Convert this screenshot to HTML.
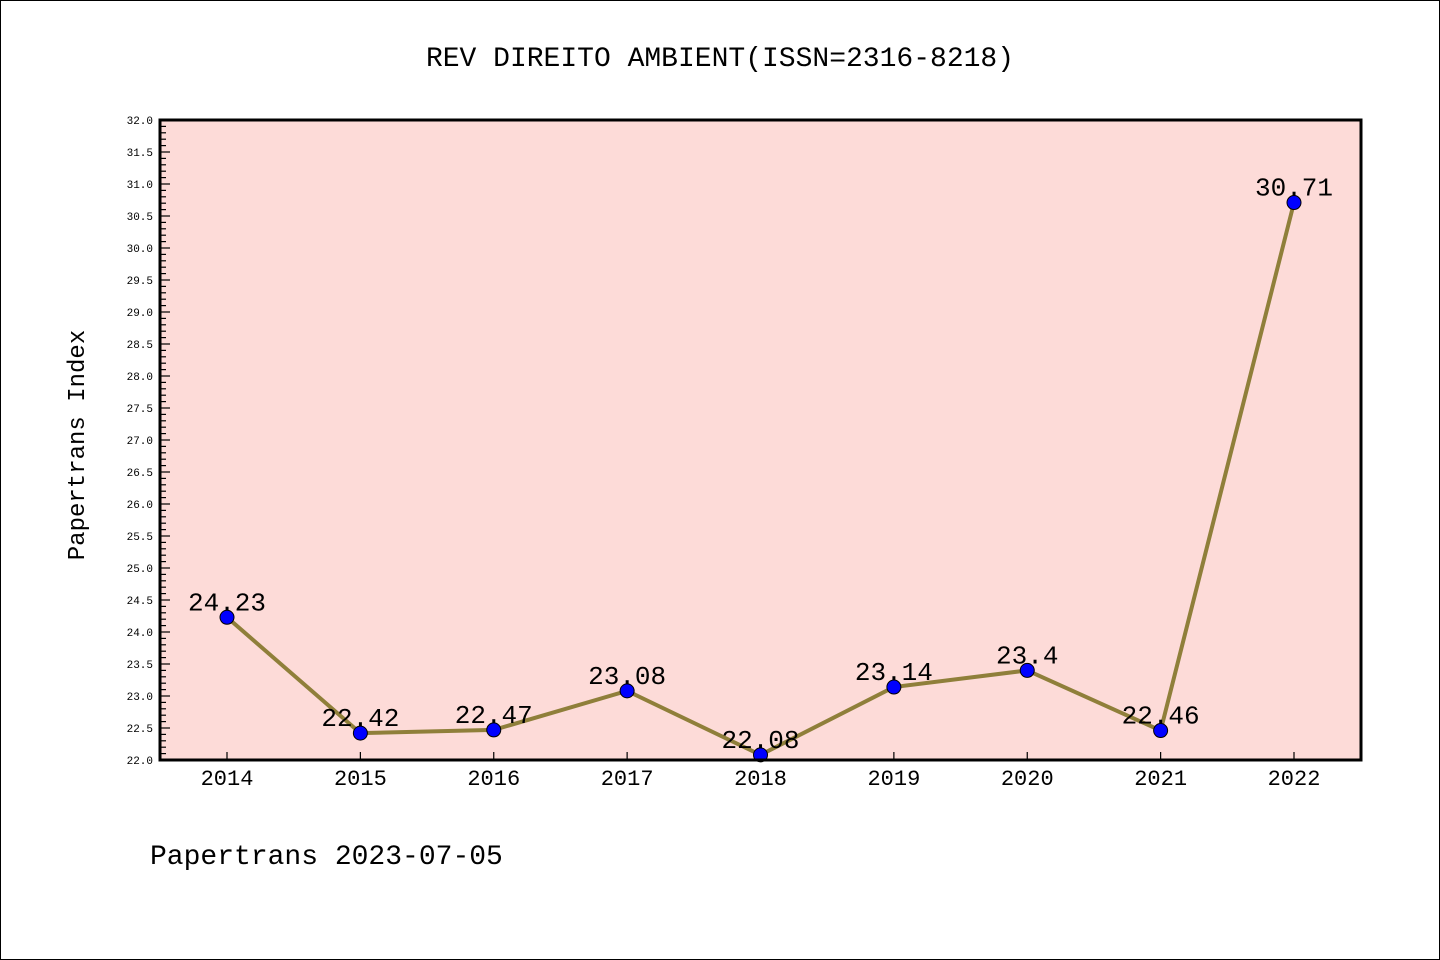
<!DOCTYPE html>
<html><head><meta charset="utf-8"><style>
body{margin:0;background:#fff}
svg{display:block}
text{font-family:"Liberation Mono","DejaVu Sans Mono","Noto Sans CJK SC",monospace}
</style></head><body>
<svg id="chart" width="1440" height="960" viewBox="0 0 1440 960" xmlns="http://www.w3.org/2000/svg">
<rect x="0.5" y="0.5" width="1439" height="959" fill="#fff" stroke="#000"/>
<text x="720" y="66" text-anchor="middle" font-size="28">REV DIREITO AMBIENT(ISSN=2316-8218)</text>
<rect x="160" y="120" width="1201" height="640" fill="#fddbd8"/>
<g id="yaxis"></g>
<g id="xaxis"></g>
<g id="series"></g>
<rect x="160" y="120" width="1201" height="640" fill="none" stroke="#000" stroke-width="3"/>
<text transform="translate(84,445) rotate(-90)" text-anchor="middle" font-size="24">Papertrans Index</text>
<text x="150" y="864" font-size="28">Papertrans 2023-07-05</text>
</svg>
<script>
const years = [2014,2015,2016,2017,2018,2019,2020,2021,2022];
const values = [24.23,22.42,22.47,23.08,22.08,23.14,23.4,22.46,30.71];
const labels = ["24.23","22.42","22.47","23.08","22.08","23.14","23.4","22.46","30.71"];
const yMin = 22, yMax = 32;
const NS = "http://www.w3.org/2000/svg";
function yS(v){return 760 - (v - yMin) / (yMax - yMin) * 640;}
function xS(i){return 227 + i * (1294 - 227) / (years.length - 1);}
function mk(tag, attrs, parent){const e=document.createElementNS(NS,tag);for(const k in attrs)e.setAttribute(k,attrs[k]);parent.appendChild(e);return e;}
const ya=document.getElementById('yaxis'), xa=document.getElementById('xaxis'), sg=document.getElementById('series');
for(let k=0;k<=100;k++){
  const v=yMin+k*0.1, y=yS(v), major=k%5===0;
  const t=mk('line',{x1:160,x2:major?170:166,y1:y,y2:y,stroke:'#000','stroke-width':1.2},ya);
  
  
  if(major){
    const l=mk('text',{x:153,y:y+4,'text-anchor':'end','font-size':11,'font-family':'DejaVu Sans, sans-serif'},ya);
    l.textContent=v.toFixed(1);
    
    
  }
}
years.forEach((yr,i)=>{
  const x=xS(i);
  const t=mk('line',{x1:x,x2:x,y1:760,y2:752,stroke:'#000','stroke-width':1.2},xa);
  
  
  const l=mk('text',{x:x,y:785,'text-anchor':'middle','font-size':22,'font-family':'DejaVu Sans, sans-serif'},xa);
  l.textContent=yr;
  
  
});
const pts=values.map((v,i)=>xS(i)+','+yS(v)).join(' ');
const pl=mk('polyline',{points:pts,fill:'none',stroke:'#8f7f3a','stroke-width':4},sg);


values.forEach((v,i)=>{
  const c=mk('circle',{cx:xS(i),cy:yS(v),r:7,fill:'#0000ff',stroke:'#000','stroke-width':1},sg);
  
  
  const t=mk('text',{x:xS(i),y:yS(v)-7,'text-anchor':'middle','font-size':26},sg);
  t.textContent=labels[i];
  
  
});
</script>
</body></html>
